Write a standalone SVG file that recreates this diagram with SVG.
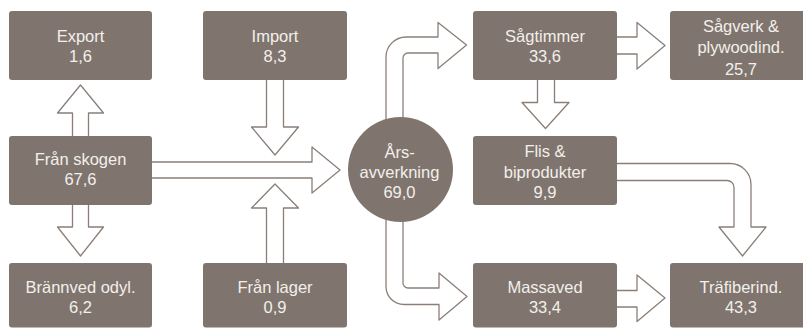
<svg xmlns="http://www.w3.org/2000/svg" width="803" height="329" viewBox="0 0 803 329">
<style>
.box{fill:#7f756e}
.t{font-family:"Liberation Sans",Arial,sans-serif;font-size:16.5px;fill:#f3efeb;text-anchor:middle}
.arr{fill:#ffffff;stroke:#8a7f78;stroke-width:1.3;stroke-linejoin:round}
</style>
<rect width="803" height="329" fill="#ffffff"/>
<g id="connectors">
<path class="arr" d="M72.5,136 V113 H57.5 L80.5,85 L103.5,113 H88.5 V136"/>
<path class="arr" d="M72.5,205 V227 H57.5 L80.5,256 L103.5,227 H88.5 V205"/>
<path class="arr" d="M266.5,80 V127 H251.5 L275,155 L298.5,127 H283.5 V80"/>
<path class="arr" d="M266.5,263 V208 H251.5 L275,184 L298.5,208 H283.5 V263"/>
<path class="arr" d="M152,162 H312 V147 L340,170 L312,193 V178 H152"/>
<path class="arr" d="M386,140 V57 A20,20 0 0 1 406,37 H438 V22.5 L466.5,45 L438,68.5 V53 H408 A5,5 0 0 0 403,58 V140"/>
<path class="arr" d="M403,200 V283 A5,5 0 0 0 408,288 H439 V273 L467,296.5 L439,320 V304.5 H404 A18,18 0 0 1 386,286.5 V200"/>
<path class="arr" d="M617,37 H637 V22.5 L665,45.5 L637,69 V54 H617"/>
<path class="arr" d="M537.5,80 V102.5 H522 L545.5,128.5 L569,102.5 H554.5 V80"/>
<path class="arr" d="M617,163.5 H730 A21,21 0 0 1 751,184.5 V227 H766 L742.5,256 L719,227 H734 V187.5 A7,7 0 0 0 727,180.5 H617"/>
<path class="arr" d="M617,290.5 H637 V275 L665,298 L637,321.5 V307 H617"/>
</g>
<g id="export"><rect class="box" x="9" y="11" width="143" height="69" rx="3"/><text class="t" x="80.5" y="41.7">Export</text><text class="t" x="80.5" y="61.7">1,6</text></g>
<g id="import"><rect class="box" x="203" y="11" width="144" height="69" rx="3"/><text class="t" x="275" y="41.7">Import</text><text class="t" x="275" y="61.7">8,3</text></g>
<g id="fran-skogen"><rect class="box" x="9" y="136" width="143" height="69" rx="3"/><text class="t" x="80.5" y="165">Från skogen</text><text class="t" x="80.5" y="185">67,6</text></g>
<g id="brannved"><rect class="box" x="9" y="263" width="143" height="64.5" rx="3"/><text class="t" x="80.5" y="293.3">Brännved odyl.</text><text class="t" x="80.5" y="313.3">6,2</text></g>
<g id="fran-lager"><rect class="box" x="203" y="263" width="144" height="64.5" rx="3"/><text class="t" x="275" y="293.3">Från lager</text><text class="t" x="275" y="313.3">0,9</text></g>
<g id="arsavverkning"><circle class="box" cx="400.5" cy="169.5" r="52.5"/><text class="t" x="399.5" y="158.3">Års-</text><text class="t" x="399.5" y="178.3">avverkning</text><text class="t" x="399.5" y="198.3">69,0</text></g>
<g id="sagtimmer"><rect class="box" x="473" y="11" width="144" height="69" rx="3"/><text class="t" x="545" y="41.7">Sågtimmer</text><text class="t" x="545" y="61.7">33,6</text></g>
<g id="sagverk"><rect class="box" x="670" y="11" width="143" height="69" rx="3"/><text class="t" x="741" y="31.7">Sågverk &amp;</text><text class="t" x="741" y="53.3">plywoodind.</text><text class="t" x="741" y="75">25,7</text></g>
<g id="flis"><rect class="box" x="473" y="136" width="144" height="69" rx="3"/><text class="t" x="545" y="156.7">Flis &amp;</text><text class="t" x="545" y="177.7">biprodukter</text><text class="t" x="545" y="198.3">9,9</text></g>
<g id="massaved"><rect class="box" x="473" y="263" width="144" height="64.5" rx="3"/><text class="t" x="545" y="293.3">Massaved</text><text class="t" x="545" y="313.3">33,4</text></g>
<g id="trafiber"><rect class="box" x="670" y="263" width="143" height="64.5" rx="3"/><text class="t" x="741" y="293.3">Träfiberind.</text><text class="t" x="741" y="313.3">43,3</text></g>
</svg>
